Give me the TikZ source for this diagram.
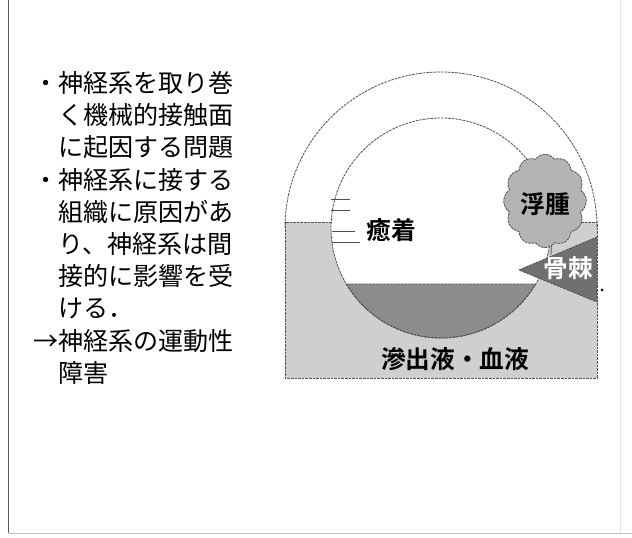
\documentclass[tikz,border=0pt]{standalone}
\usepackage{fontspec}
\setmainfont{Noto Sans CJK JP}[BoldFont={Noto Sans CJK JP Bold}]
\usetikzlibrary{shapes.symbols}

\tikzset{every picture/.style={line width=0.75pt}}
\definecolor{tissue}{RGB}{207,207,207}
\definecolor{exudate}{RGB}{140,140,140}
\definecolor{spur}{RGB}{112,112,112}
\definecolor{swell}{RGB}{180,180,180}
\definecolor{edge}{RGB}{80,80,80}
\tikzset{
  outline/.style={draw=edge, line width=0.6pt, dash pattern=on 2pt off 0.7pt},
  label/.style={inner sep=0.75pt, font=\fontsize{18.5}{22}\selectfont\bfseries},
}

\begin{document}
\begin{tikzpicture}[x=0.75pt,y=0.75pt,yscale=-1,xscale=1]
    \useasboundingbox (0,0) rectangle (632,538);
    \coordinate (c) at (441,228);

    %Frame lines
    \draw [color=black!65, line width=1.2pt] (8.5,0) -- (8.5,533) ;
    \draw [color=black!25] (8.5,533) -- (632,533) ;
    \draw [color=black!10] (620,0) -- (620,533) ;

    %Shape: Rectangle (surrounding tissue)
    \draw [outline, fill=tissue] (285,222) rectangle (597,378) ;
    %Shape: Arc (outer arch)
    \draw [outline] (285,228) arc [start angle=180, end angle=360, radius=156] ;
    %Shape: Circle (nerve space)
    \fill [white] (c) circle [radius=110] ;
    %Shape: Pool (exudate)
    \begin{scope}
        \clip (c) circle [radius=110] ;
        \fill [exudate] (330,284) rectangle (552,340) ;
    \end{scope}
    \draw [outline] (346.3,284) arc [start angle=149.4, end angle=30.6, radius=110] -- cycle ;
    \draw [outline] (c) circle [radius=110] ;

    %Straight Lines (adhesion marks)
    \draw [color=edge, line width=0.6pt] (331,199) -- (350,199) ;
    \draw [color=edge, line width=0.6pt] (331,210) -- (350,210) ;
    \draw [color=edge, line width=0.6pt] (332,231) -- (355,231) ;
    \draw [color=edge, line width=0.6pt] (332,242) -- (360,242) ;

    %Shape: Triangle (bone spur)
    \draw [outline, fill=spur] (519,270) -- (597,237) -- (597,302) -- cycle ;
    \coordinate (spurtop) at (551,255) ;

    %Shape: Cloud (swelling)
    \node [cloud, cloud puffs=12, cloud puff arc=110, outline, fill=swell,
           minimum width=62, minimum height=70, inner sep=0pt] (swelling) at (545,201) {} ;
    \draw [color=edge, line width=0.6pt] (swelling.-82) -- (spurtop) ;

    % Text Node
    \draw (545,204) node [label] (edema) {浮腫};
    % Text Node
    \draw (391,230) node [label] (adhesion) {癒着};
    % Text Node
    \draw (568,268) node [label, text=white] (spurlbl) {骨棘};
    % Text Node
    \draw (455,359) node [label] (fluid) {滲出液・血液};
    % Dot
    \fill (602,290) circle [radius=1.5] ;

    % Text Node
    \draw (33,71) node [anchor=north west][inner sep=0pt][align=left, font=\fontsize{18.8}{24.15}\selectfont] (points)
        {・神経系を取り巻\\　く機械的接触面\\　に起因する問題\\・神経系に接する\\　組織に原因があ\\　り、神経系は間\\　接的に影響を受\\　ける．\\→神経系の運動性\\　障害};

\end{tikzpicture}
\end{document}
